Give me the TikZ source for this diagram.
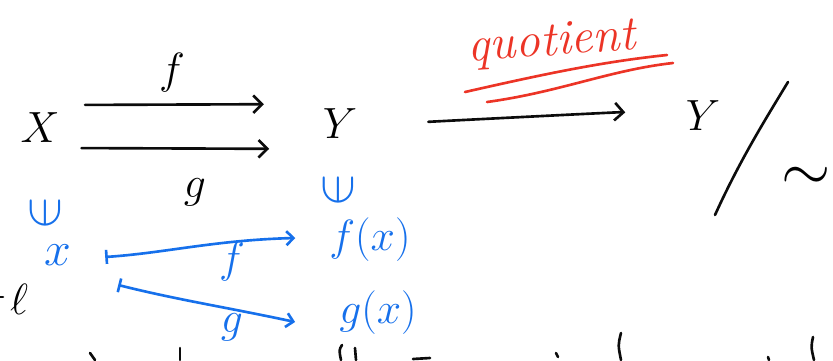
\documentclass[tikz,border=0pt]{standalone}
\definecolor{ink}{RGB}{12,12,12}
\definecolor{blueink}{RGB}{22,112,235}
\definecolor{redink}{RGB}{236,52,38}
\usepackage{amsmath,amssymb}
\usepackage{tikz}
\usetikzlibrary{arrows.meta,positioning,calc}

\begin{document}
\begin{tikzpicture}[x=0.02cm, y=-0.02cm,
    hand/.style={line width=1.5pt, line cap=round},
    big/.style={font=\fontsize{28}{28}\selectfont},
    lbl/.style={font=\fontsize{25}{25}\selectfont},
    blu/.style={text=blueink, font=\fontsize{23}{23}\selectfont},
    tip/.style={-{Straight Barb[length=5pt,width=10pt]}},
    mapsto/.style={blueink, hand, {Bar[width=8pt]}-{Straight Barb[length=4pt,width=8pt]}}]
        \useasboundingbox (0,0) rectangle (833,360);
        % the two parallel maps
        \node[big] (X) at (40,128) {$X$};
        \node[big] (Y) at (340,124) {$Y$};
        \draw[ink, hand, tip, shorten <=11pt, shorten >=30pt]
          ([shift={(0,-23)}]X.east) -- ([shift={(0,-20)}]Y.west);
        \draw[ink, hand, tip, shorten <=9pt, shorten >=27pt]
          ([shift={(0,20)}]X.east) -- ([shift={(0,25)}]Y.west);
        \node[lbl] (f) at (172,73) {$f$};
        \node[lbl] (g) at (195,192) {$g$};
        % quotient
        \node[big] (Yq) at (703,116) {$Y$};
        \draw[ink, hand, tip, shorten <=37pt, shorten >=31pt]
          (Y.east) .. controls +(60,-2) and +(-60,-4) .. (Yq.west);
        \draw[ink, hand] (715,215) .. controls (740,160) and (765,120) .. (788,82);
        \node[big, scale=1.45] (tl) at (806,179) {$\sim$};
        \node[text=redink, font=\fontsize{28}{28}\selectfont\itshape, rotate=4] (quot) at (552,44) {quotient};
        \draw[redink, hand] (465,92) .. controls (540,75) and (600,62) .. (667,55);
        \draw[redink, hand] (487,102) .. controls (560,92) and (610,70) .. (673,63);
        % elements
        \node[blu, scale=1.2, rotate=90] (inX) at (45,213) {$\in$};
        \node[blu, scale=1.2, rotate=90] (inY) at (338,190) {$\in$};
        \node[blu, scale=1.1] (x) at (58,255) {$x$};
        \node[blu] (fx) at (370,240) {$f(x)$};
        \node[blu] (gx) at (378,313) {$g(x)$};
        \draw[mapsto]
          ([shift={(27,2)}]x.east) .. controls +(60,-4) and +(-80,2) .. ([shift={(-28,-2)}]fx.west);
        \draw[mapsto]
          ([shift={(40,30)}]x.east) .. controls +(60,15) and +(-70,-15) .. ([shift={(-38,9)}]gx.west);
        \node[blu] (lf) at (232,262) {$f$};
        \node[blu] (lg) at (232,327) {$g$};
        % cut-off writing at the edges
        \node[font=\fontsize{24}{24}\selectfont] (ell) at (19,299) {$\ell$};
        \draw[ink, hand] (0,297) -- (3,297);
        \draw[ink, hand] (90,353) -- (95,360);
        \draw[ink, hand] (180,348) -- (180,360);
        \draw[ink, hand] (342,345) .. controls (339,350) .. (341,360);
        \draw[ink, hand] (355,348) -- (356,360);
        \draw[ink, hand] (413,359) -- (430,358);
        \draw[ink, hand] (556,353) -- (558,357);
        \draw[ink, hand] (621,333) .. controls (618,345) .. (621,360);
        \draw[ink, hand] (768,357) -- (769,360);
        \draw[ink, hand] (813,337) .. controls (811,347) .. (814,360);
      \end{tikzpicture}
\end{document}
